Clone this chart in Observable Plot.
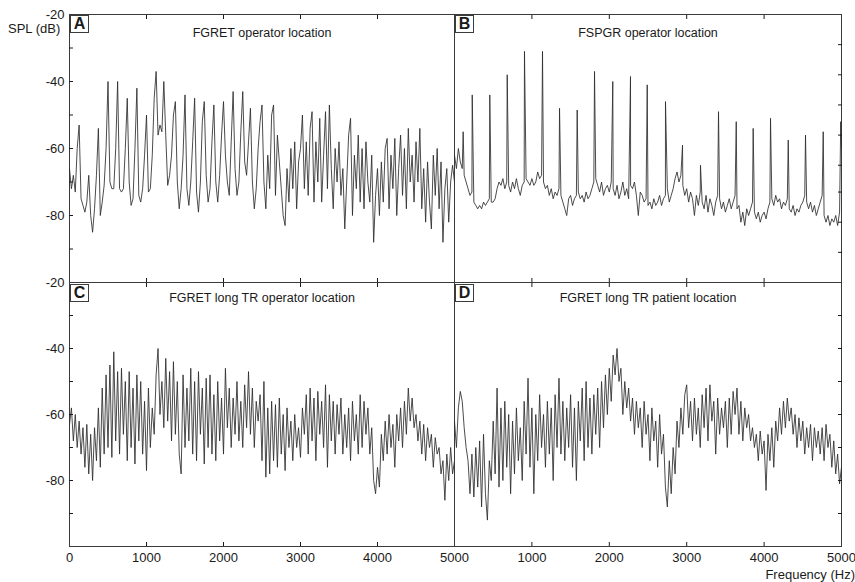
<!DOCTYPE html>
<html>
<head>
<meta charset="utf-8">
<script src="https://cdn.jsdelivr.net/npm/d3@7"></script>
<script src="https://cdn.jsdelivr.net/npm/@observablehq/plot@0.6"></script>
<style>
  body { margin: 0; background: #fff; }
  #wrap { position: relative; width: 855px; height: 582px; font-family: "Liberation Sans", Arial, sans-serif; color: #1a1a1a; }
  #wrap svg { position: absolute; left: 0; top: 0; }
  .box { position: absolute; box-sizing: border-box; width: 19px; height: 18px; border: 1px solid #3c3c3c;
         font-weight: bold; font-size: 16px; line-height: 16px; text-align: center; background: #fff; }
  .lab { position: absolute; font-size: 13px; line-height: 16px; white-space: nowrap; }
</style>
</head>
<body>
<div id="wrap"></div>
<script>
// ---- data (SPL in dB, sampled every 25 Hz from 0 to 5000 Hz) ----
const freqStep = 25;

const panelATitle = "FGRET operator location";
const panelA = [
  -66,-72,-68,-73, -60,-53,-75,-77, -79,-76,-68,-80, -85,-78,-68,-54, -80,-76,-71,-60,
  -40,-70,-72,-72, -60,-40,-72,-73, -72,-60,-45,-70, -77,-75,-60,-42, -74,-76,-72,-62,
  -50,-73,-72,-62, -45,-37,-56,-53, -55,-40,-56,-71, -68,-62,-50,-46, -70,-78,-72,-62,
  -44,-72,-77,-70, -58,-45,-73,-79, -70,-52,-46,-68, -76,-72,-58,-47, -70,-76,-68,-56,
  -46,-62,-70,-74, -58,-43,-66,-74, -70,-55,-43,-64, -68,-58,-48,-70, -78,-72,-60,-52,
  -47,-70,-78,-62, -72,-50,-47,-74, -56,-64,-72,-80, -83,-66,-76,-60, -72,-58,-78,-64,
  -60,-50,-72,-58, -74,-54,-49,-76, -58,-70,-51,-76, -62,-49,-72,-47, -66,-78,-60,-70,
  -58,-74,-66,-84, -70,-56,-51,-80, -62,-72,-56,-76, -60,-78,-58,-70, -76,-62,-88,-74,
  -66,-80,-64,-76, -60,-57,-78,-62, -72,-57,-80,-66, -56,-74,-60,-78, -54,-70,-62,-76,
  -58,-70,-54,-78, -66,-82,-64,-76, -84,-62,-74,-60, -78,-64,-88,-72, -66,-82,-70,-65,
  -70
];

const panelBTitle = "FSPGR operator location";
const panelBBaseline = [
  -62,-66,-60,-64, -66,-68,-70,-72, -74,-73,-76,-77, -78,-77,-78,-76, -77,-76,-75,-76,
  -76,-75,-72,-70, -71,-69,-72,-70, -71,-73,-70,-72, -69,-72,-74,-71, -70,-69,-70,-71,
  -69,-71,-70,-67, -69,-68,-70,-72, -71,-74,-72,-75, -73,-74,-72,-74, -76,-78,-80,-75,
  -74,-77,-75,-74, -73,-75,-74,-76, -73,-75,-74,-72, -70,-69,-71,-73, -70,-74,-72,-71,
  -73,-70,-72,-74, -71,-75,-73,-70, -74,-72,-75,-71, -72,-70,-74,-80, -73,-74,-76,-75,
  -77,-76,-78,-75, -77,-76,-74,-77, -75,-74,-72,-76, -74,-72,-69,-67, -70,-68,-71,-74,
  -72,-76,-73,-75, -80,-74,-77,-73, -76,-78,-74,-79, -75,-77,-80,-76, -74,-75,-78,-76,
  -79,-77,-75,-78, -76,-74,-78,-77, -82,-79,-83,-78, -80,-78,-76,-79, -81,-79,-82,-80,
  -79,-81,-78,-76, -75,-77,-74,-76, -75,-78,-76,-77, -75,-78,-79,-77, -80,-78,-79,-77,
  -76,-74,-76,-78, -76,-79,-77,-80, -78,-76,-74,-80, -82,-80,-83,-81, -82,-80,-83,-79,
  -60
];
// narrow spectral lines of panel B: frequency (Hz), level (dB)
const panelBSpikeFreqs = [112, 229, 456, 681, 904, 1137, 1357, 1585, 1809, 2045, 2274, 2490,
                          2726, 2946, 3178, 3411, 3640, 3859, 4083, 4312, 4535, 4764, 4990];
const panelBSpikeLevels = [-55, -44, -44, -38, -31, -31, -48, -48.5, -37, -40, -38.5, -41,
                           -46, -59, -65, -49, -52, -54, -51, -57.5, -56, -55, -52];

const panelCTitle = "FGRET long TR operator location";
const panelC = [
  -63,-58,-68,-60, -70,-62,-72,-64, -76,-63,-78,-66, -80,-64,-74,-58, -76,-52,-72,-48,
  -70,-45,-73,-41, -68,-47,-72,-46, -66,-50,-74,-47, -70,-52,-75,-48, -68,-50,-72,-56,
  -77,-52,-70,-58, -66,-48,-40,-60, -50,-64,-43,-62, -47,-68,-44,-66, -50,-72,-78,-48,
  -70,-52,-68,-46, -72,-50,-74,-47, -66,-52,-75,-49, -70,-48,-72,-54, -74,-50,-68,-55,
  -72,-46,-64,-52, -70,-55,-66,-50, -68,-56,-70,-51, -64,-47,-66,-52, -70,-56,-62,-54,
  -74,-50,-79,-58, -78,-56,-74,-57, -76,-55,-72,-60, -77,-58,-70,-62, -74,-60,-70,-64,
  -73,-58,-66,-54, -72,-52,-68,-55, -74,-53,-66,-56, -70,-51,-76,-54, -68,-56,-72,-57,
  -66,-55,-72,-60, -70,-58,-74,-56, -68,-60,-72,-54, -70,-56,-66,-58, -72,-64,-80,-84,
  -76,-82,-66,-74, -62,-72,-60,-70, -63,-76,-60,-68, -58,-70,-56,-66, -52,-62,-55,-64,
  -60,-68,-62,-72, -63,-74,-64,-70, -66,-76,-67,-72, -70,-78,-74,-86, -72,-80,-70,-78,
  -74
];

const panelDTitle = "FGRET long TR patient location";
const panelD = [
  -62,-70,-58,-53, -56,-64,-70,-74, -84,-72,-85,-70, -82,-68,-88,-66, -84,-92,-74,-80,
  -62,-78,-52,-82, -58,-80,-56,-76, -60,-84,-62,-78, -58,-74,-64,-80, -56,-72,-49,-76,
  -58,-84,-60,-74, -54,-70,-60,-76, -56,-72,-58,-80, -54,-70,-49,-72, -56,-74,-58,-70,
  -54,-76,-58,-80, -56,-68,-52,-74, -50,-70,-55,-72, -54,-66,-52,-70, -50,-64,-48,-60,
  -46,-56,-42,-48, -40,-50,-46,-60, -50,-58,-52,-62, -55,-66,-56,-64, -58,-70,-56,-66,
  -60,-74,-58,-68, -62,-76,-60,-72, -66,-82,-88,-74, -84,-70,-78,-62, -70,-58,-66,-54,
  -51,-64,-56,-68, -55,-66,-58,-70, -54,-64,-52,-68, -51,-62,-56,-72, -55,-66,-58,-64,
  -56,-70,-55,-66, -53,-60,-52,-66, -56,-68,-58,-64, -60,-68,-64,-70, -66,-74,-65,-72,
  -68,-83,-66,-74, -64,-76,-62,-68, -58,-66,-56,-64, -55,-62,-58,-66, -60,-70,-61,-68,
  -62,-72,-64,-70, -63,-74,-64,-70, -65,-72,-64,-74, -63,-70,-66,-76, -68,-78,-72,-81,
  -76
];

// ---- axis ticks ----
const yLabelTicks = [-20, -40, -60, -80];
const yInnerTicks = [-30, -40, -50, -60, -70, -80, -90];
const xInnerTicks = [1000, 2000, 3000, 4000];
const xLabelTicksLeft = [0, 1000, 2000, 3000, 4000, 5000];
const xLabelTicksRight = [1000, 2000, 3000, 4000, 5000];
const bRightTicks = [-29, -38, -47, -56, -65, -73, -82, -91];
const dRightTicks = [-30, -40, -50, -60, -70, -80, -90];

// ---- build tables ----
const toRows = vals => vals.map((db, i) => ({f: i * freqStep, db}));
const rowsA = toRows(panelA);
const rowsB = toRows(panelBBaseline)
  .concat(panelBSpikeFreqs.map((f, i) => ({f, db: panelBSpikeLevels[i]})))
  .sort((a, b) => a.f - b.f);
const rowsC = toRows(panelC);
const rowsD = toRows(panelD);

const INK = "#2c2c2c";
const fmt = d => String(d);

function makePanel(cfg) {
  const marks = [
    Plot.frame({stroke: "#3a3a3a", strokeWidth: 1}),
    Plot.axisX(xInnerTicks, {anchor: "top", tickSize: -4, tickFormat: () => "", label: null}),
    Plot.axisX(xInnerTicks, {anchor: "bottom", tickSize: -4, tickFormat: () => "", label: null}),
    Plot.line(cfg.rows, {x: "f", y: "db", stroke: INK, strokeWidth: 0.85}),
    Plot.text([cfg.title], {text: d => d, frameAnchor: "top", dy: cfg.titleDy, fontSize: 12.5, fill: "#1a1a1a"})
  ];
  if (cfg.left) {
    marks.push(Plot.axisY(yLabelTicks, {anchor: "left", tickSize: 0, tickPadding: 5, tickFormat: fmt, label: null, fontSize: 13}));
    marks.push(Plot.axisY(yInnerTicks, {anchor: "left", tickSize: -4, tickFormat: () => "", label: null}));
  }
  if (cfg.rightTicks) {
    marks.push(Plot.axisY(cfg.rightTicks, {anchor: "right", tickSize: -4, tickFormat: () => "", label: null}));
  }
  if (cfg.xLabels) {
    marks.push(Plot.axisX(cfg.xLabels, {anchor: "bottom", tickSize: 0, tickPadding: 6, tickFormat: fmt, label: null, fontSize: 13}));
  }
  return Plot.plot({
    width: 855,
    height: 582,
    marginLeft: cfg.ml, marginRight: cfg.mr, marginTop: cfg.mt, marginBottom: cfg.mb,
    style: {background: "transparent", fontFamily: "'Liberation Sans', Arial, sans-serif", color: "#1a1a1a", overflow: "visible"},
    x: {domain: [0, 5000]},
    y: {domain: [-100, -20]},
    marks
  });
}

const wrap = document.getElementById("wrap");
const panels = [
  {rows: rowsA, title: panelATitle, titleDy: 14, ml: 69, mr: 401, mt: 14, mb: 300, left: true},
  {rows: rowsB, title: panelBTitle, titleDy: 14, ml: 454, mr: 14, mt: 14, mb: 300, rightTicks: bRightTicks},
  {rows: rowsC, title: panelCTitle, titleDy: 11, ml: 69, mr: 401, mt: 282, mb: 36, left: true, xLabels: xLabelTicksLeft},
  {rows: rowsD, title: panelDTitle, titleDy: 11, ml: 454, mr: 14, mt: 282, mb: 36, rightTicks: dRightTicks, xLabels: xLabelTicksRight}
];
panels.forEach(p => wrap.appendChild(makePanel(p)));

// panel letters and axis titles
const letters = [["A", 70, 15], ["B", 455, 15], ["C", 70, 284], ["D", 455, 284]];
letters.forEach(([t, x, y]) => {
  const d = document.createElement("div");
  d.className = "box"; d.textContent = t;
  d.style.left = x + "px"; d.style.top = y + "px";
  wrap.appendChild(d);
});
const yTitle = document.createElement("div");
yTitle.className = "lab"; yTitle.textContent = "SPL (dB)";
yTitle.style.left = "8px"; yTitle.style.top = "21px";
wrap.appendChild(yTitle);
const xTitle = document.createElement("div");
xTitle.className = "lab"; xTitle.textContent = "Frequency (Hz)";
xTitle.style.right = "0px"; xTitle.style.top = "567px";
wrap.appendChild(xTitle);
</script>
</body>
</html>
